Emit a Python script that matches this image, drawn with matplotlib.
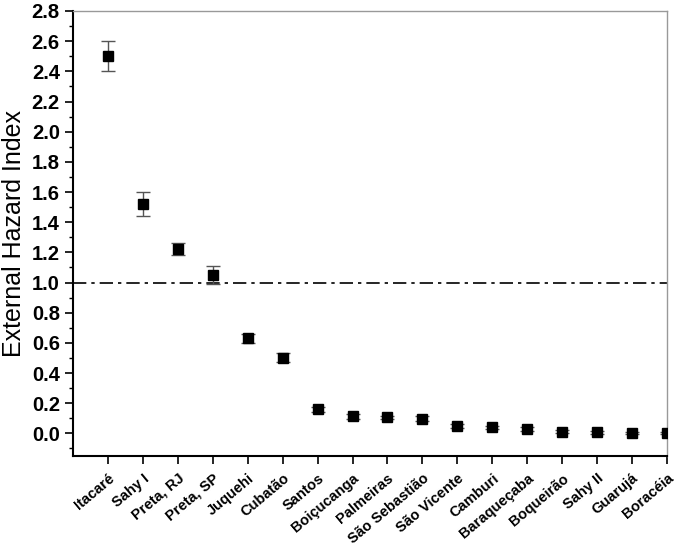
import matplotlib
matplotlib.use("Agg")
import matplotlib.pyplot as plt
from matplotlib.ticker import MultipleLocator

plt.rcParams['font.family'] = ['Liberation Sans', 'DejaVu Sans']

sites = ["Itacaré", "Sahy I", "Preta, RJ", "Preta, SP", "Juquehi", "Cubatão", "Santos",
         "Boiçucanga", "Palmeiras", "São Sebastião", "São Vicente", "Camburi",
         "Baraqueçaba", "Boqueirão", "Sahy II", "Guarujá", "Boracéia"]
hazard = [2.50, 1.52, 1.22, 1.05, 0.63, 0.50, 0.16, 0.113, 0.106, 0.098, 0.049,
          0.040, 0.029, 0.011, 0.009, 0.004, 0.002]
errors = [0.10, 0.08, 0.04, 0.06, 0.03, 0.03, 0.015, 0.015, 0.012, 0.015, 0.012,
          0.010, 0.010, 0.010, 0.010, 0.008, 0.008]
threshold = 1.0

fig = plt.figure(figsize=(6.85, 5.5), dpi=100)
ax = fig.add_axes([73/685, 94/550, 594/685, 445/550])

x = list(range(len(sites)))
ax.errorbar(x, hazard, yerr=errors, fmt='s', color='black', markersize=7,
            ecolor='#555555', elinewidth=1.0, capsize=5, capthick=1.0, zorder=3)
ax.axhline(threshold, color='black', linestyle=(0, (8, 3, 2, 3)), linewidth=1.2, zorder=2)

ax.set_xlim(-1, 16)
ax.set_ylim(-0.15, 2.8)
ax.set_xticks(x)
ax.set_xticklabels(sites, rotation=40, ha='right', rotation_mode='anchor',
                   fontsize=10.5, fontweight='bold')
ax.set_yticks([i * 0.2 for i in range(15)])
ax.set_yticklabels([f"{i*0.2:.1f}" for i in range(15)], fontsize=14.5, fontweight='bold')
ax.yaxis.set_minor_locator(MultipleLocator(0.1))
ax.tick_params(axis='both', which='major', direction='out', length=6, width=1.2)
ax.tick_params(axis='x', which='major', pad=5)
ax.tick_params(axis='y', which='minor', direction='out', length=3, width=1.0)
ax.set_ylabel("External Hazard Index", fontsize=18, labelpad=4)

for s in ['left', 'bottom']:
    ax.spines[s].set_linewidth(1.5)
for s in ['top', 'right']:
    ax.spines[s].set_color('#999999')
    ax.spines[s].set_linewidth(1.0)

fig.savefig("out.png", dpi=100)
